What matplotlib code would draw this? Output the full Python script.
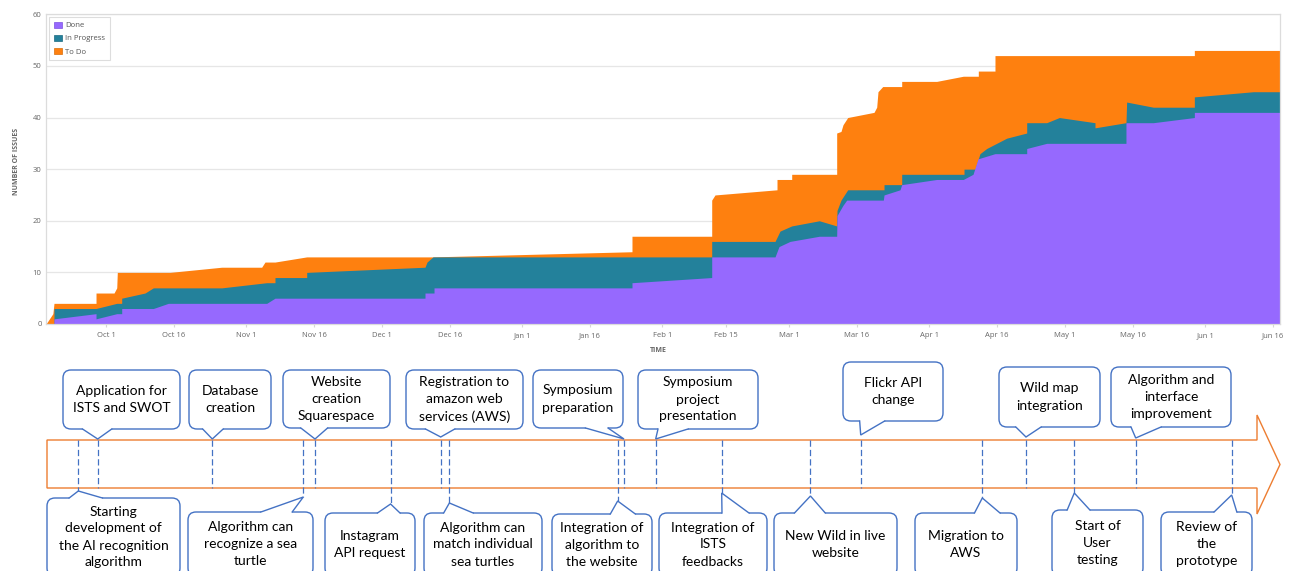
import pandas as pd
import matplotlib
matplotlib.use('Agg')
import matplotlib.pyplot as plt
import matplotlib.dates as mdates
from matplotlib.patches import FancyBboxPatch, Polygon, Patch

plt.rcParams['font.family'] = ['Open Sans', 'DejaVu Sans']

# cumulative flow: every issue created, started (done + in progress) and done
created_dates = ['2016-09-17 17:30', '2016-09-19 06:00', '2016-09-19 12:00', '2016-09-28 19:00',
                 '2016-09-28 19:00', '2016-10-02 18:30', '2016-10-03 09:00', '2016-10-03 12:00',
                 '2016-10-15 03:30', '2016-10-26 14:00', '2016-11-04 10:00', '2016-11-05 03:40',
                 '2016-11-07 08:40', '2016-11-14 09:00', '2016-12-12 07:00', '2017-01-25 07:00',
                 '2017-01-25 07:00', '2017-02-11 22:00', '2017-02-11 22:00', '2017-02-12 15:30',
                 '2017-02-26 08:30', '2017-02-26 08:30', '2017-03-01 14:30', '2017-03-01 14:30',
                 '2017-03-11 13:10', '2017-03-11 13:10', '2017-03-12 12:00', '2017-03-12 22:40',
                 '2017-03-13 09:20', '2017-03-13 23:40', '2017-03-19 19:10', '2017-03-20 09:30',
                 '2017-03-20 16:20', '2017-03-21 17:20', '2017-03-25 22:10', '2017-03-25 22:10',
                 '2017-04-02 15:50', '2017-04-08 13:00', '2017-04-11 20:40', '2017-04-11 20:40',
                 '2017-04-15 13:10', '2017-04-15 13:10', '2017-05-29 15:00', '2017-05-29 15:00',
                 '2017-06-17 13:30']
created_counts = [0, 2, 4, 4, 6, 6, 7, 10, 10, 11, 11, 12, 12, 13, 13, 14, 17, 17, 24, 25,
                  26, 28, 28, 29, 29, 37, 37.3, 38.6, 39.2, 40, 41, 42, 45, 46, 46, 47,
                  47, 48, 48, 49, 49, 52, 52, 53, 53]

started_dates = ['2016-09-19 12:00', '2016-09-19 12:00', '2016-09-28 19:00', '2016-10-03 09:00',
                 '2016-10-04 11:20', '2016-10-04 11:20', '2016-10-09 15:00', '2016-10-11 11:00',
                 '2016-10-26 14:00', '2016-11-05 12:40', '2016-11-07 08:40', '2016-11-07 08:40',
                 '2016-11-14 09:00', '2016-11-14 09:00', '2016-12-10 12:40', '2016-12-10 23:20',
                 '2016-12-12 07:00', '2017-02-11 22:00', '2017-02-11 22:00', '2017-02-25 22:00',
                 '2017-02-27 00:30', '2017-03-01 14:30', '2017-03-07 17:00', '2017-03-11 13:10',
                 '2017-03-11 15:00', '2017-03-12 12:00', '2017-03-13 23:40', '2017-03-22 00:20',
                 '2017-03-22 00:20', '2017-03-25 22:10', '2017-03-25 22:10', '2017-04-08 16:50',
                 '2017-04-08 16:50', '2017-04-11 03:10', '2017-04-12 05:30', '2017-04-13 17:00',
                 '2017-04-18 03:20', '2017-04-22 13:30', '2017-04-22 13:30', '2017-04-26 23:30',
                 '2017-04-29 18:30', '2017-05-07 15:50', '2017-05-07 15:50', '2017-05-14 12:10',
                 '2017-05-14 15:50', '2017-05-20 13:10', '2017-05-29 15:00', '2017-05-29 15:00',
                 '2017-06-11 15:50', '2017-06-17 13:30']
started_counts = [0, 3, 3, 4, 4, 5, 6, 7, 7, 8, 8, 9, 9, 10, 11, 12, 13, 13, 16, 16,
                  18, 19, 20, 19, 22, 24, 26, 26, 27, 27, 29, 29, 30, 30, 33, 34, 36, 37, 39, 39,
                  40, 39, 38, 39, 43, 42, 42, 44, 45, 45]

done_dates = ['2016-09-19 12:00', '2016-09-19 12:00', '2016-09-28 19:00', '2016-09-28 19:00',
              '2016-10-03 09:00', '2016-10-04 11:20', '2016-10-04 11:20', '2016-10-11 11:00',
              '2016-10-14 18:30', '2016-11-05 12:40', '2016-11-07 08:40', '2016-12-10 12:40',
              '2016-12-10 12:40', '2016-12-12 12:30', '2016-12-12 12:30', '2017-01-25 07:00',
              '2017-01-25 07:00', '2017-02-11 22:00', '2017-02-11 22:00', '2017-02-25 22:00',
              '2017-02-26 19:00', '2017-03-01 05:30', '2017-03-07 17:00', '2017-03-11 13:10',
              '2017-03-11 15:00', '2017-03-12 22:40', '2017-03-13 18:10', '2017-03-21 20:40',
              '2017-03-22 00:20', '2017-03-25 13:10', '2017-03-25 22:10', '2017-04-02 15:50',
              '2017-04-08 13:00', '2017-04-10 16:30', '2017-04-11 19:00', '2017-04-15 13:10',
              '2017-04-22 13:30', '2017-04-22 13:30', '2017-04-26 23:30', '2017-05-14 12:10',
              '2017-05-14 12:10', '2017-05-20 13:10', '2017-05-29 15:00', '2017-05-29 15:00',
              '2017-06-17 13:30']
done_counts = [0, 1, 2, 1, 2, 2, 3, 3, 4, 4, 5, 5, 6, 6, 7, 7, 8, 9, 13, 13,
               15, 16, 17, 17, 21, 23, 24, 24, 25, 26, 27, 28, 28, 29, 32, 33, 33, 34, 35, 35,
               39, 39, 40, 41, 41]

tick_dates = ['2016-10-01', '2016-10-16', '2016-11-01', '2016-11-16', '2016-12-01', '2016-12-16',
              '2017-01-01', '2017-01-16', '2017-02-01', '2017-02-15', '2017-03-01', '2017-03-16',
              '2017-04-01', '2017-04-16', '2017-05-01', '2017-05-16', '2017-06-01', '2017-06-16']
tick_labels = ['Oct 1', 'Oct 16', 'Nov 1', 'Nov 16', 'Dec 1', 'Dec 16', 'Jan 1', 'Jan 16',
               'Feb 1', 'Feb 15', 'Mar 1', 'Mar 16', 'Apr 1', 'Apr 16', 'May 1', 'May 16',
               'Jun 1', 'Jun 16']

# project milestones
event_dates = ['2016-09-24 21:00', '2016-09-29 04:00', '2016-10-24 12:00', '2016-11-13 15:00',
               '2016-11-16 05:00', '2016-12-02 22:00', '2016-12-14 00:00', '2016-12-15 22:00',
               '2017-01-22 03:00', '2017-01-23 12:40', '2017-01-30 12:40', '2017-02-14 03:00',
               '2017-03-05 18:00', '2017-03-16 20:40', '2017-04-12 17:50', '2017-04-22 09:40',
               '2017-05-03 02:00', '2017-05-16 15:50', '2017-06-06 21:00']
event_labels = ['Starting\ndevelopment of\nthe AI recognition\nalgorithm',
                'Application for\nISTS and SWOT',
                'Database\ncreation',
                'Algorithm can\nrecognize a sea\nturtle',
                'Website\ncreation\nSquarespace',
                'Instagram\nAPI request',
                'Registration to\namazon web\nservices (AWS)',
                'Algorithm can\nmatch individual\nsea turtles',
                'Integration of\nalgorithm to\nthe website',
                'Symposium\npreparation',
                'Symposium\nproject\npresentation',
                'Integration of\nISTS\nfeedbacks',
                'New Wild in live\nwebsite',
                'Flickr API\nchange',
                'Migration to\nAWS',
                'Wild map\nintegration',
                'Start of\nUser\ntesting',
                'Algorithm and\ninterface\nimprovement',
                'Review of\nthe\nprototype']

# callout boxes (x0, y0, x1, y1) and tail tip height, in figure pixels from the top
boxes = [(47, 498, 180, 576), (63, 370, 180, 429), (189, 370, 271, 429), (188, 512, 313, 576),
         (283, 370, 390, 428), (325, 513, 415, 576), (406, 370, 523, 429), (424, 513, 542, 576),
         (552, 514, 652, 576), (533, 370, 623, 428), (638, 370, 758, 429), (659, 513, 767, 576),
         (774, 513, 897, 576), (843, 362, 943, 421), (915, 513, 1017, 576), (999, 367, 1100, 427),
         (1052, 510, 1143, 576), (1111, 367, 1231, 427), (1161, 512, 1252, 576)]
tips = [491, 439, 439, 497, 439, 504, 437, 503, 501, 439, 439, 493, 496, 435, 498, 437, 493, 438, 495]

DONE = '#9669fe'
PROGRESS = '#23819b'
TODO = '#fe800f'
BLUE = '#4472c4'
ARROW = '#ed7d31'

W, H = 1291, 571
fig = plt.figure(figsize=(W / 100, H / 100), dpi=100)
ax = fig.add_axes([45.7 / W, 1 - 324 / H, (1280 - 45.7) / W, (324 - 14.3) / H])

ax.fill_between(pd.to_datetime(created_dates), 0, created_counts, color=TODO, lw=0)
ax.fill_between(pd.to_datetime(started_dates), 0, started_counts, color=PROGRESS, lw=0)
ax.fill_between(pd.to_datetime(done_dates), 0, done_counts, color=DONE, lw=0)

ax.set_xlim(pd.Timestamp('2016-09-17 16:00'), pd.Timestamp('2017-06-17 13:30'))
ax.set_ylim(0, 60)
ax.set_yticks(range(0, 61, 10))
ax.set_xticks(pd.to_datetime(tick_dates))
ax.set_xticklabels(tick_labels)
ax.grid(axis='y', color='#e6e6e6', lw=0.9)
ax.set_axisbelow(True)
for side in ['left', 'right', 'top', 'bottom']:
    ax.spines[side].set_color('#dcdcdc')
    ax.spines[side].set_linewidth(0.9)
ax.tick_params(axis='y', length=0, pad=3, labelsize=5.5, labelcolor='#666666')
ax.tick_params(axis='x', length=2.5, color='#d6d6d6', pad=3.5, labelsize=5.5, labelcolor='#666666')

handles = [Patch(fc=DONE, ec='#7d52e0', lw=0.5, label='Done'),
           Patch(fc=PROGRESS, ec='#1b6a80', lw=0.5, label='In Progress'),
           Patch(fc=TODO, ec='#d96c08', lw=0.5, label='To Do')]
leg = ax.legend(handles=handles, loc='upper left', bbox_to_anchor=(0.003, 0.99), borderaxespad=0,
                fontsize=5.6, fancybox=False, edgecolor='#dddddd', framealpha=1,
                handlelength=1.1, handleheight=0.8, handletextpad=0.4, labelspacing=0.7,
                borderpad=0.55)
leg.get_frame().set_linewidth(0.8)
for t in leg.get_texts():
    t.set_color('#555555')

fig.text(17 / W, 1 - 161 / H, 'NUMBER OF ISSUES', rotation=90, ha='center', va='center',
         fontsize=5, fontweight='bold', color='#666666')
fig.text(658 / W, 1 - 351 / H, 'TIME', ha='center', va='center',
         fontsize=5, fontweight='bold', color='#666666')

# timeline drawn in pixel space over the whole figure
ov = fig.add_axes([0, 0, 1, 1], zorder=5)
ov.set_xlim(0, W)
ov.set_ylim(H, 0)
ov.axis('off')

body_top, body_bot = 440, 488
arrow = Polygon([(47, body_top), (1257, body_top), (1257, 415), (1280, 464.5),
                 (1257, 514), (1257, body_bot), (47, body_bot)],
                closed=True, fc='none', ec=ARROW, lw=1.0)
ov.add_patch(arrow)

for date, label, box, tip_y in zip(event_dates, event_labels, boxes, tips):
    tx = ax.transData.transform((mdates.date2num(pd.Timestamp(date)), 0))[0]
    x0, y0, x1, y1 = box
    w = x1 - x0
    above = y1 < tip_y

    # dashed marker through the arrow body
    ya, yb = (body_top, body_bot) if above else (body_top, tip_y)
    ov.plot([tx, tx], [ya, yb], color=BLUE, lw=0.9, ls=(0, (5, 2.5)))

    ov.add_patch(FancyBboxPatch((x0, y0), w, y1 - y0, boxstyle='round,pad=0,rounding_size=8',
                                fc='white', ec=BLUE, lw=1.0))
    if tx < x0 + w / 2:
        b0, b1 = x0 + w / 6, x0 + w * 5 / 12
    else:
        b0, b1 = x0 + w * 7 / 12, x0 + w * 5 / 6
    ey = y1 if above else y0
    inner = -2 if above else 2
    ov.add_patch(Polygon([(b0, ey + inner), (b0, ey), (tx, tip_y), (b1, ey), (b1, ey + inner)],
                         closed=True, fc='white', ec='none'))
    ov.plot([b0, tx, b1], [ey, tip_y, ey], color=BLUE, lw=1.0, solid_joinstyle='miter')

    ov.text((x0 + x1) / 2, (y0 + y1) / 2, label, ha='center', va='center', fontsize=10,
            family=['Lato', 'DejaVu Sans'], linespacing=1.5, color='black')

fig.savefig('out.png', dpi=100)
